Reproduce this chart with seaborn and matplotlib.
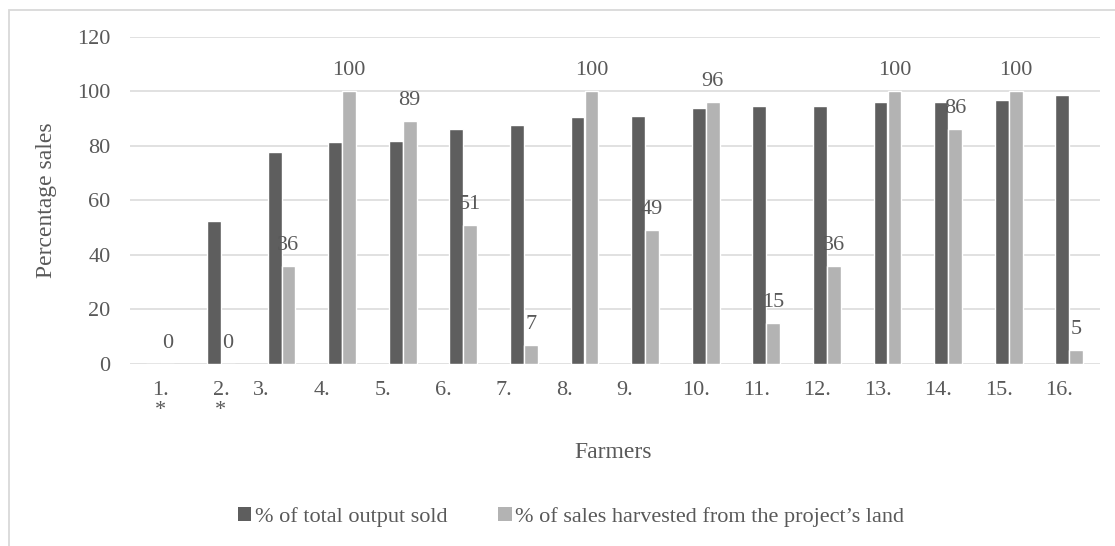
import matplotlib
matplotlib.use("Agg")
import matplotlib.pyplot as plt
import matplotlib.transforms as mtransforms
from matplotlib.patches import Rectangle
import seaborn as sns
import pandas as pd

# ---- data ----
farmers = ["1.\n*", "2.\n*", "3.", "4.", "5.", "6.", "7.", "8.", "9.", "10.",
           "11.", "12.", "13.", "14.", "15.", "16."]
total_output_sold = [0, 52.6, 77.6, 81.4, 81.9, 86.3, 87.7, 90.7, 90.9, 93.8,
                     94.6, 94.7, 96.0, 96.2, 96.8, 98.6]
sales_from_project = [0, 0, 36, 100, 89, 51, 7, 100, 49, 96, 15, 36, 100, 86, 100, 5]
series_names = ["% of total output sold", "% of sales harvested from the project\u2019s land"]
y_ticks = [0, 20, 40, 60, 80, 100, 120]

df = pd.DataFrame({
    "Farmer": farmers * 2,
    "value": total_output_sold + sales_from_project,
    "series": [series_names[0]] * len(farmers) + [series_names[1]] * len(farmers),
})

DARK = "#5e5e5e"
LIGHT = "#b3b3b3"
TXT = "#595959"
GRID = "#d9d9d9"
FS = 16

sns.set_theme(style="white")
plt.rcParams["font.family"] = ["Liberation Serif", "DejaVu Serif"]

fig = plt.figure(figsize=(11.15, 5.46), dpi=100)
ax = fig.add_axes([130 / 1115, 1 - 364 / 546, 969.6 / 1115, (364 - 36.7) / 546])

sns.barplot(data=df, x="Farmer", y="value", hue="series", order=farmers,
            hue_order=series_names, palette=[DARK, LIGHT], saturation=1,
            width=0.46, gap=0, ax=ax, legend=False, errorbar=None)

ax.set_ylim(0, 120)
ax.set_xlim(-0.5, len(farmers) - 0.5)
ax.set_yticks(y_ticks)
ax.yaxis.grid(True, color=GRID, linewidth=1.1)
ax.set_axisbelow(True)
for s in ax.spines.values():
    s.set_visible(False)
ax.tick_params(axis="both", length=0, labelsize=FS, labelcolor=TXT)
ax.tick_params(axis="y", pad=14)
ax.tick_params(axis="x", pad=12)

ax.set_xticks(range(len(farmers)))
ax.set_xticklabels(farmers, linespacing=1.1)
# Excel-like horizontal shift of category labels
for i, lbl in enumerate(ax.get_xticklabels()):
    if i < 2:
        dx = 0
    elif i < 9:
        dx = -20
    else:
        dx = -10
    lbl.set_transform(lbl.get_transform() +
                      mtransforms.ScaledTranslation(dx / 100, 0, fig.dpi_scale_trans))

# data labels on the light series
light_container = ax.containers[1]
ax.bar_label(light_container, labels=[f"{v:g}" for v in sales_from_project],
             padding=8, fontsize=FS, color=TXT)

ax.set_xlabel("")
ax.set_ylabel("Percentage sales", fontsize=FS + 1, color=TXT)
ax.yaxis.set_label_coords((57 - 130) / 969.6, 0.5)
fig.text(613 / 1115, 1 - 452 / 546, "Farmers", ha="center", va="center",
         fontsize=FS + 1, color=TXT)

# legend
handles = [Rectangle((0, 0), 1, 1, facecolor=DARK, edgecolor="none"),
           Rectangle((0, 0), 1, 1, facecolor=LIGHT, edgecolor="none")]
fig.legend(handles, series_names, loc="center", bbox_to_anchor=(571 / 1115, 1 - 517 / 546),
           ncol=2, frameon=False, fontsize=FS, labelcolor=TXT,
           handlelength=0.6, handleheight=0.6, handletextpad=0.15, columnspacing=2.3)

# chart-area border (left and top visible)
fig.patches.append(Rectangle((8.5 / 1115, -0.1), 1.2, 1 - 10 / 546 + 0.1,
                             transform=fig.transFigure, fill=False,
                             edgecolor=GRID, linewidth=1.3))

fig.savefig("out.png", dpi=100, facecolor="white")
